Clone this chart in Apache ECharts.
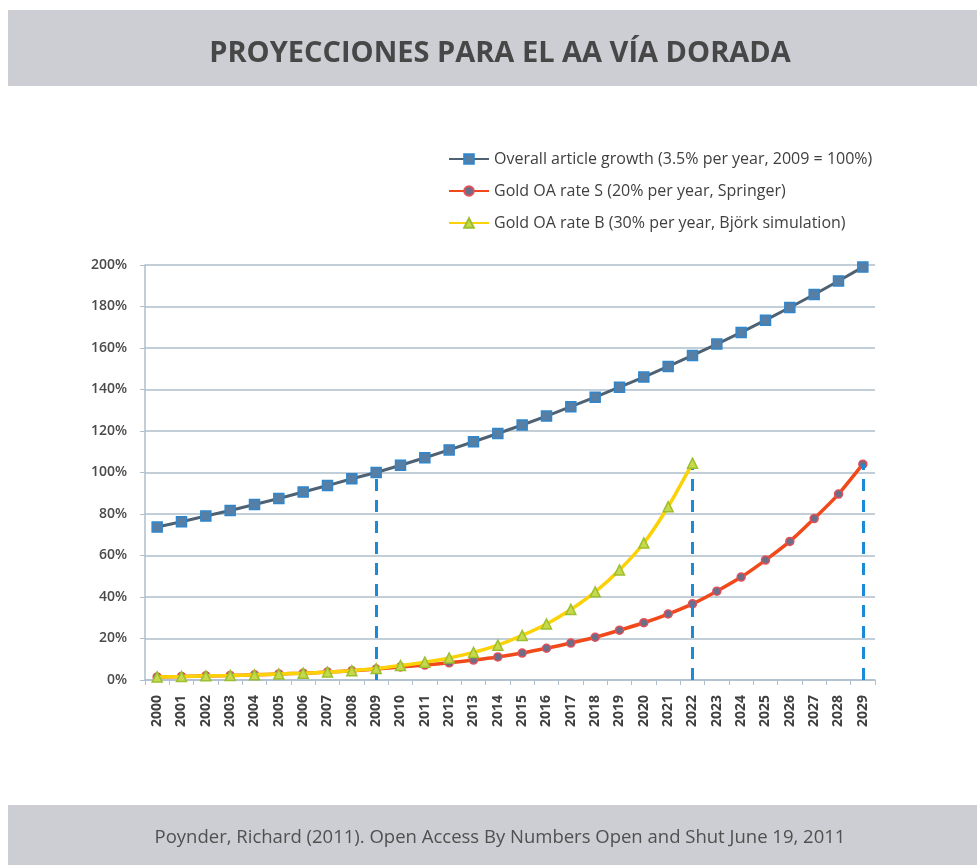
<!DOCTYPE html>
<html>
<head>
<meta charset="utf-8">
<script src="https://cdn.jsdelivr.net/npm/echarts@6/dist/echarts.min.js"></script>
<style>
html,body{margin:0;padding:0;background:#fff;}
#c{width:977px;height:865px;}
</style>
</head>
<body>
<div id="c"></div>
<script>
const years = ['2000','2001','2002','2003','2004','2005','2006','2007','2008','2009',
  '2010','2011','2012','2013','2014','2015','2016','2017','2018','2019',
  '2020','2021','2022','2023','2024','2025','2026','2027','2028','2029'];
const overallGrowth = [73.7,76.3,79.0,81.7,84.6,87.5,90.6,93.7,97.0,100,
  103.5,107.1,110.9,114.8,118.8,122.9,127.2,131.7,136.3,141.1,
  146.0,151.1,156.4,161.9,167.5,173.4,179.5,185.8,192.3,199.0];
const goldS = [1.5,1.7,2.0,2.2,2.5,2.9,3.3,3.8,4.4,5.3,
  6.3,7.2,8.3,9.6,11.1,13.0,15.3,17.8,20.6,24.0,
  27.6,31.8,36.7,42.8,49.6,57.8,66.8,77.8,89.6,104.0];
const goldB = [1.5,1.7,2.0,2.2,2.5,2.9,3.3,3.8,4.5,5.5,
  7.0,8.6,10.6,13.3,16.8,21.5,27.0,34.0,42.5,53.0,
  66.0,83.5,104.5];
const yTicks = {min:0, max:200, interval:20};
const seriesNames = ['Overall article growth (3.5% per year, 2009 = 100%)',
  'Gold OA rate S (20% per year, Springer)',
  'Gold OA rate B (30% per year, Björk simulation)'];
const titleText = 'PROYECCIONES PARA EL AA VÍA DORADA';
const sourceText = 'Poynder, Richard (2011). Open Access By Numbers Open and Shut June 19, 2011';
// dashed reference lines: [year, value]
const refLines = [['2009', overallGrowth[9]], ['2022', goldB[22]], ['2029', goldS[29]]];

const chart = echarts.init(document.getElementById('c'), null, {renderer:'canvas'});
const axisCol = '#aebfcd';
const dashStyle = {color:'#1b8ad8', width:3, type:[12,9]};
chart.setOption({
  backgroundColor:'#ffffff',
  animation:false,
  graphic:[
    {type:'rect', left:8, top:10, shape:{width:969, height:76}, style:{fill:'#cdced3'}, z:-10},
    {type:'rect', left:8, top:805, shape:{width:969, height:60}, style:{fill:'#cdced3'}, z:-10}
  ],
  title:[
    {text:titleText, left:495, top:34, textAlign:'center',
     textStyle:{fontFamily:'Open Sans', fontWeight:'bold', fontSize:29, color:'#474747'}},
    {text:sourceText, left:495, top:823, textAlign:'center',
     textStyle:{fontFamily:'Open Sans', fontWeight:'normal', fontSize:18.5, color:'#505050'}}
  ],
  legend:{
    orient:'vertical', left:443, top:146, itemWidth:40, itemHeight:12, itemGap:16,
    textStyle:{fontFamily:'Open Sans', fontSize:16, color:'#404040'},
    data:seriesNames
  },
  grid:{left:145, right:102, top:265, bottom:185, containLabel:false},
  xAxis:{
    type:'category', data:years, boundaryGap:true,
    axisLine:{lineStyle:{color:axisCol, width:1.5}},
    axisTick:{show:true, length:5, lineStyle:{color:axisCol}},
    axisLabel:{rotate:90, interval:0, margin:15, fontFamily:'Open Sans', fontWeight:'bold', fontSize:14, color:'#404040'},
    splitLine:{show:false}
  },
  yAxis:{
    type:'value', min:yTicks.min, max:yTicks.max, interval:yTicks.interval,
    axisLine:{show:true, lineStyle:{color:axisCol, width:1.5}},
    axisTick:{show:true, length:5, lineStyle:{color:axisCol}},
    axisLabel:{formatter:'{value}%', margin:18, fontFamily:'Open Sans', fontWeight:600, fontSize:14, color:'#4a4a4a'},
    splitLine:{show:true, lineStyle:{color:axisCol, width:1.5}}
  },
  series:[
    {name:seriesNames[0], type:'line', data:overallGrowth, symbol:'rect', symbolSize:10,
     lineStyle:{color:'#4e6273', width:3}, itemStyle:{color:'#577fa6', borderColor:'#2f86cc', borderWidth:1.5},
     markLine:{silent:true, symbol:'none', label:{show:false}, lineStyle:dashStyle,
       data:[[{coord:[refLines[0][0],0]},{coord:[refLines[0][0],refLines[0][1]]}]]}, z:3},
    {name:seriesNames[1], type:'line', data:goldS, symbol:'circle', symbolSize:8, smooth:0.2,
     lineStyle:{color:'#f2491b', width:3.5}, itemStyle:{color:'#6c6d86', borderColor:'#e2505a', borderWidth:1.5},
     markLine:{silent:true, symbol:'none', label:{show:false}, lineStyle:dashStyle,
       data:[[{coord:[refLines[2][0],0]},{coord:[refLines[2][0],refLines[2][1]]}]]}, z:4},
    {name:seriesNames[2], type:'line', data:goldB, symbol:'triangle', symbolSize:10, smooth:0.2,
     lineStyle:{color:'#fbd207', width:3.5}, itemStyle:{color:'#c7d94a', borderColor:'#9bbf2e', borderWidth:1.5},
     markLine:{silent:true, symbol:'none', label:{show:false}, lineStyle:dashStyle,
       data:[[{coord:[refLines[1][0],0]},{coord:[refLines[1][0],refLines[1][1]]}]]}, z:5}
  ]
});
</script>
</body>
</html>
